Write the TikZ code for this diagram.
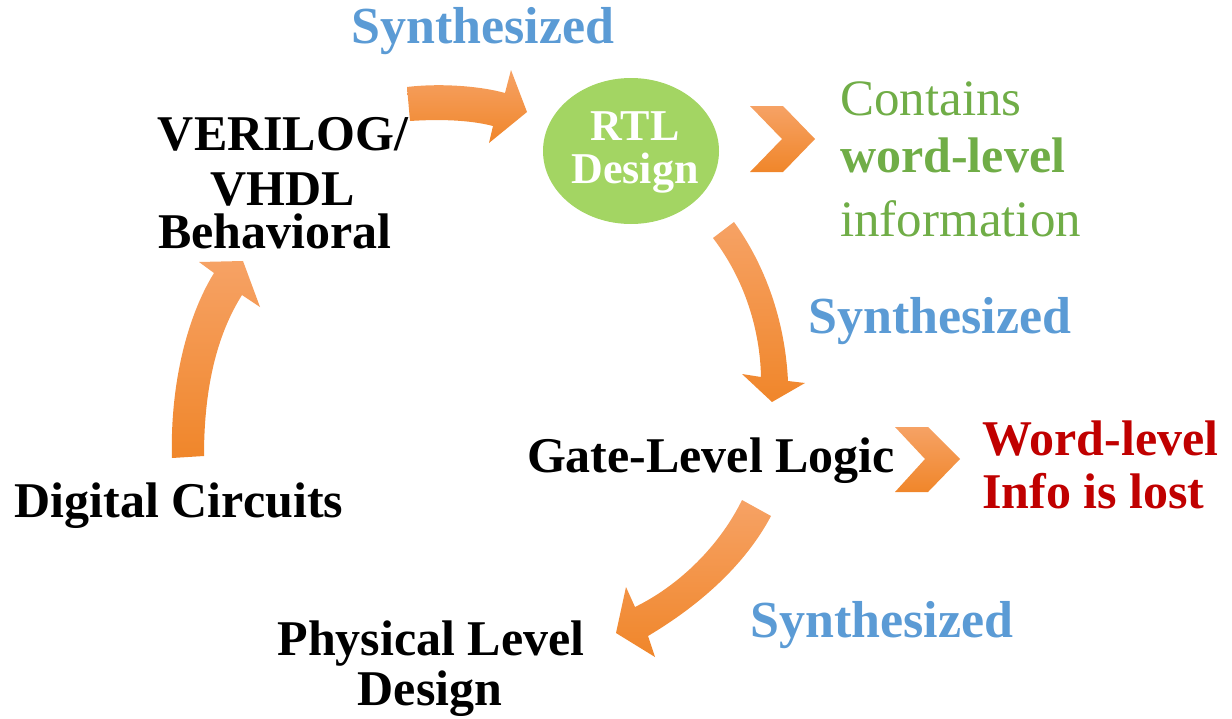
\documentclass[tikz,border=0pt]{standalone}
\usepackage{fontspec}
\setmainfont{Liberation Serif}
\definecolor{synblue}{HTML}{5B9BD5}
\definecolor{infogreen}{HTML}{70AD47}
\definecolor{lostred}{HTML}{C00000}
\definecolor{rtlgreen}{HTML}{A3D563}
\definecolor{orangetop}{HTML}{F6A265}
\definecolor{orangebot}{HTML}{F0862A}
\newcommand{\bigbold}{\fontsize{50pt}{60pt}\selectfont\bfseries}
\newcommand{\synbold}{\fontsize{52pt}{60pt}\selectfont\bfseries}
\newcommand{\bigreg}{\fontsize{51pt}{60pt}\selectfont}
\newcommand{\rtlfont}{\fontsize{44pt}{50pt}\selectfont\bfseries}
\tikzset{
  lbl/.style={inner sep=0pt, anchor=base, font=\bigbold},
  lblleft/.style={lbl, anchor=base west},
  synth/.style={lbl, text=synblue, font=\synbold},
  blockarrow/.style={top color=orangetop, bottom color=orangebot},
}
\begin{document}
\begin{tikzpicture}[x=1pt, y=-1pt]
\useasboundingbox (0,0) rectangle (1232,718);

% flow arrows
\shade[blockarrow] (407,87) .. controls (440,83) and (480,86) .. (505,93)
  -- (511,70) -- (527,112) -- (489,143) -- (493,126)
  .. controls (470,120) and (440,119) .. (410,121) -- cycle;
\shade[blockarrow] (713,238) -- (734,222) .. controls (765,265) and (785,320) .. (788,381)
  -- (805,383) -- (772,402) -- (742,374) -- (761,377)
  .. controls (760,330) and (745,280) .. (713,238) -- cycle;
\shade[blockarrow] (742,500) -- (771,516) .. controls (745,565) and (700,605) .. (648,636)
  -- (655,657) -- (616,633) -- (626,587) -- (635,607)
  .. controls (680,585) and (720,545) .. (742,500) -- cycle;
\shade[blockarrow] (172,458) -- (204,456) .. controls (204,380) and (220,330) .. (242,295)
  -- (260,307) -- (243,261) -- (199,262) -- (214,273)
  .. controls (185,320) and (170,390) .. (172,458) -- cycle;

% chevrons
\shade[blockarrow] (750,106) -- (783,106) -- (815,139) -- (783,172) -- (750,172) -- (782,139) -- cycle;
\shade[blockarrow] (895,427) -- (928,427) -- (960,459) -- (928,492) -- (895,492) -- (925,459) -- cycle;

% RTL design
\fill[rtlgreen] (631,151) ellipse (88pt and 73pt);
\node[lbl, text=white, font=\rtlfont] (rtl1) at (635,140) {RTL};
\node[lbl, text=white, font=\rtlfont] (rtl2) at (635,183) {Design};

% labels
\node[synth] (syn1) at (483,43) {Synthesized};
\node[synth] (syn2) at (940,333) {Synthesized};
\node[synth] (syn3) at (882,637) {Synthesized};

\node[lbl] (hdl1) at (283,150) {VERILOG/};
\node[lbl, text depth=0pt] (hdl2) at (283,205) {VHDL};
\node[lbl, text height=30pt] (hdl3) at (275,248) {Behavioral};

\node[lbl] (gate) at (711,472) {Gate-Level Logic};
\node[lbl] (dig) at (179,517) {Digital Circuits};
\node[lbl] (phy1) at (431,655) {Physical Level};
\node[lbl] (phy2) at (430,705) {Design};

\node[lblleft, text=infogreen, font=\bigreg] (con1) at (840,115) {Contains};
\node[lblleft, text=infogreen] (con2) at (840,172) {word-level};
\node[lblleft, text=infogreen, font=\bigreg] (con3) at (840,236) {information};

\node[lblleft, text=lostred] (lost1) at (982,455) {Word-level};
\node[lblleft, text=lostred] (lost2) at (982,508) {Info is lost};
\end{tikzpicture}
\end{document}
